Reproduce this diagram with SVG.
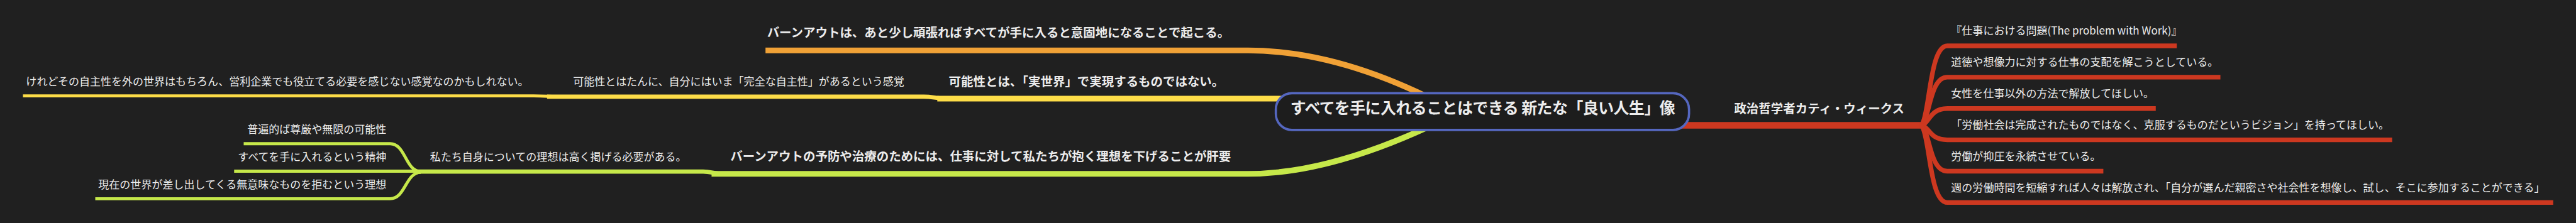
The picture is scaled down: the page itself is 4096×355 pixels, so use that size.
<svg xmlns="http://www.w3.org/2000/svg" width="4096" height="355" viewBox="0 0 4096 355">
<style>
.t{font-family:"Noto Sans CJK JP","Noto Sans",sans-serif;fill:#ececec}
.r{font-size:28px;font-weight:400}
.b{font-size:32px;font-weight:700}
.c{fill:none;stroke-linecap:butt;stroke-linejoin:round}
.o{stroke:#f0a136}
.y{stroke:#fddd48}
.g{stroke:#c6e84a}
.d{stroke:#cd3820}
</style>
<rect x="0" y="0" width="4096" height="355" fill="#202020"/>
<g transform="scale(0.6083)">
<g id="connectors">
<path class="c o" stroke-width="15" d="M2001,132 L3262,132 Q3520,132 3820,300"/>
<path class="c y" stroke-width="15" d="M2450,258 L3700,258"/>
<path class="c y" stroke-width="11" d="M1430,253 L2415,253 C2440,253 2445,258 2475,258"/>
<path class="c y" stroke-width="8" d="M60,251 L1395,251 C1430,251 1435,253 1475,253"/>
<path class="c g" stroke-width="15" d="M1860,455 L3262,455 Q3500,455 3820,290"/>
<path class="c g" stroke-width="11" d="M1092,449 L1838,449 C1860,449 1865,455 1892,455"/>
<path class="c g" stroke-width="8" d="M637,376 L1020,376 C1060,376 1060,449 1100,449"/>
<path class="c g" stroke-width="8" d="M612,448 L1100,448"/>
<path class="c g" stroke-width="8" d="M249,520 L1020,520 C1060,520 1060,451 1100,451"/>
<path class="c d" stroke-width="17" d="M4300,328 L5022,328"/>
<path class="c d" stroke-width="12" d="M5018,328 C5045,328 5040,120 5090,120 L5690,120"/>
<path class="c d" stroke-width="12" d="M5018,328 C5045,328 5040,202 5090,202 L5804,202"/>
<path class="c d" stroke-width="12" d="M5018,328 C5045,328 5040,284 5090,284 L5635,284"/>
<path class="c d" stroke-width="12" d="M5018,328 C5045,328 5040,366 5090,366 L6253,366"/>
<path class="c d" stroke-width="12" d="M5018,328 C5045,328 5040,448 5090,448 L5498,448"/>
<path class="c d" stroke-width="12" d="M5018,328 C5045,328 5040,530 5090,530 L6674,530"/>
</g>
<g id="root">
<rect x="3335" y="244" width="1080" height="96" rx="42" ry="42" fill="#1d1d1d" stroke="#5567c0" stroke-width="6"/>
<text class="t" x="3373" y="297" font-size="41" font-weight="700" textLength="1006">すべてを手に入れることはできる 新たな「良い人生」像</text>
</g>
<g id="n-burnout">
<text class="t b" x="2005" y="97">バーンアウトは、あと少し頑張ればすべてが手に入ると意固地になることで起こる。</text>
</g>
<g id="n-kanousei">
<text class="t b" x="2480" y="225">可能性とは、「実世界」で実現するものではない。</text>
</g>
<g id="n-kanousei-1">
<text class="t r" x="1498" y="223">可能性とはたんに、自分にはいま「完全な自主性」があるという感覚</text>
</g>
<g id="n-kanousei-2">
<text class="t r" x="68" y="223">けれどその自主性を外の世界はもちろん、営利企業でも役立てる必要を感じない感覚なのかもしれない。</text>
</g>
<g id="n-yobou">
<text class="t b" x="1909" y="421">バーンアウトの予防や治療のためには、仕事に対して私たちが抱く理想を下げることが肝要</text>
</g>
<g id="n-risou">
<text class="t r" x="1124" y="421">私たち自身についての理想は高く掲げる必要がある。</text>
</g>
<g id="n-risou-1">
<text class="t r" x="1010" y="349" text-anchor="end">普遍的ば尊厳や無限の可能性</text>
</g>
<g id="n-risou-2">
<text class="t r" x="1010" y="421" text-anchor="end">すべてを手に入れるという精神</text>
</g>
<g id="n-risou-3">
<text class="t r" x="1010" y="493" text-anchor="end">現在の世界が差し出してくる無意味なものを拒むという理想</text>
</g>
<g id="n-weeks">
<text class="t b" x="4533" y="296">政治哲学者カティ・ウィークス</text>
</g>
<g id="n-weeks-1">
<text class="t r" x="5100" y="91">『仕事における問題(The problem with Work)』</text>
</g>
<g id="n-weeks-2">
<text class="t r" x="5100" y="173">道徳や想像力に対する仕事の支配を解こうとしている。</text>
</g>
<g id="n-weeks-3">
<text class="t r" x="5100" y="255">女性を仕事以外の方法で解放してほしい。</text>
</g>
<g id="n-weeks-4">
<text class="t r" x="5100" y="337">「労働社会は完成されたものではなく、克服するものだというビジョン」を持ってほしい。</text>
</g>
<g id="n-weeks-5">
<text class="t r" x="5100" y="419">労働が抑圧を永続させている。</text>
</g>
<g id="n-weeks-6">
<text class="t r" x="5100" y="501">週の労働時間を短縮すれば人々は解放され、「自分が選んだ親密さや社会性を想像し、試し、そこに参加することができる」</text>
</g>
</g>
</svg>
